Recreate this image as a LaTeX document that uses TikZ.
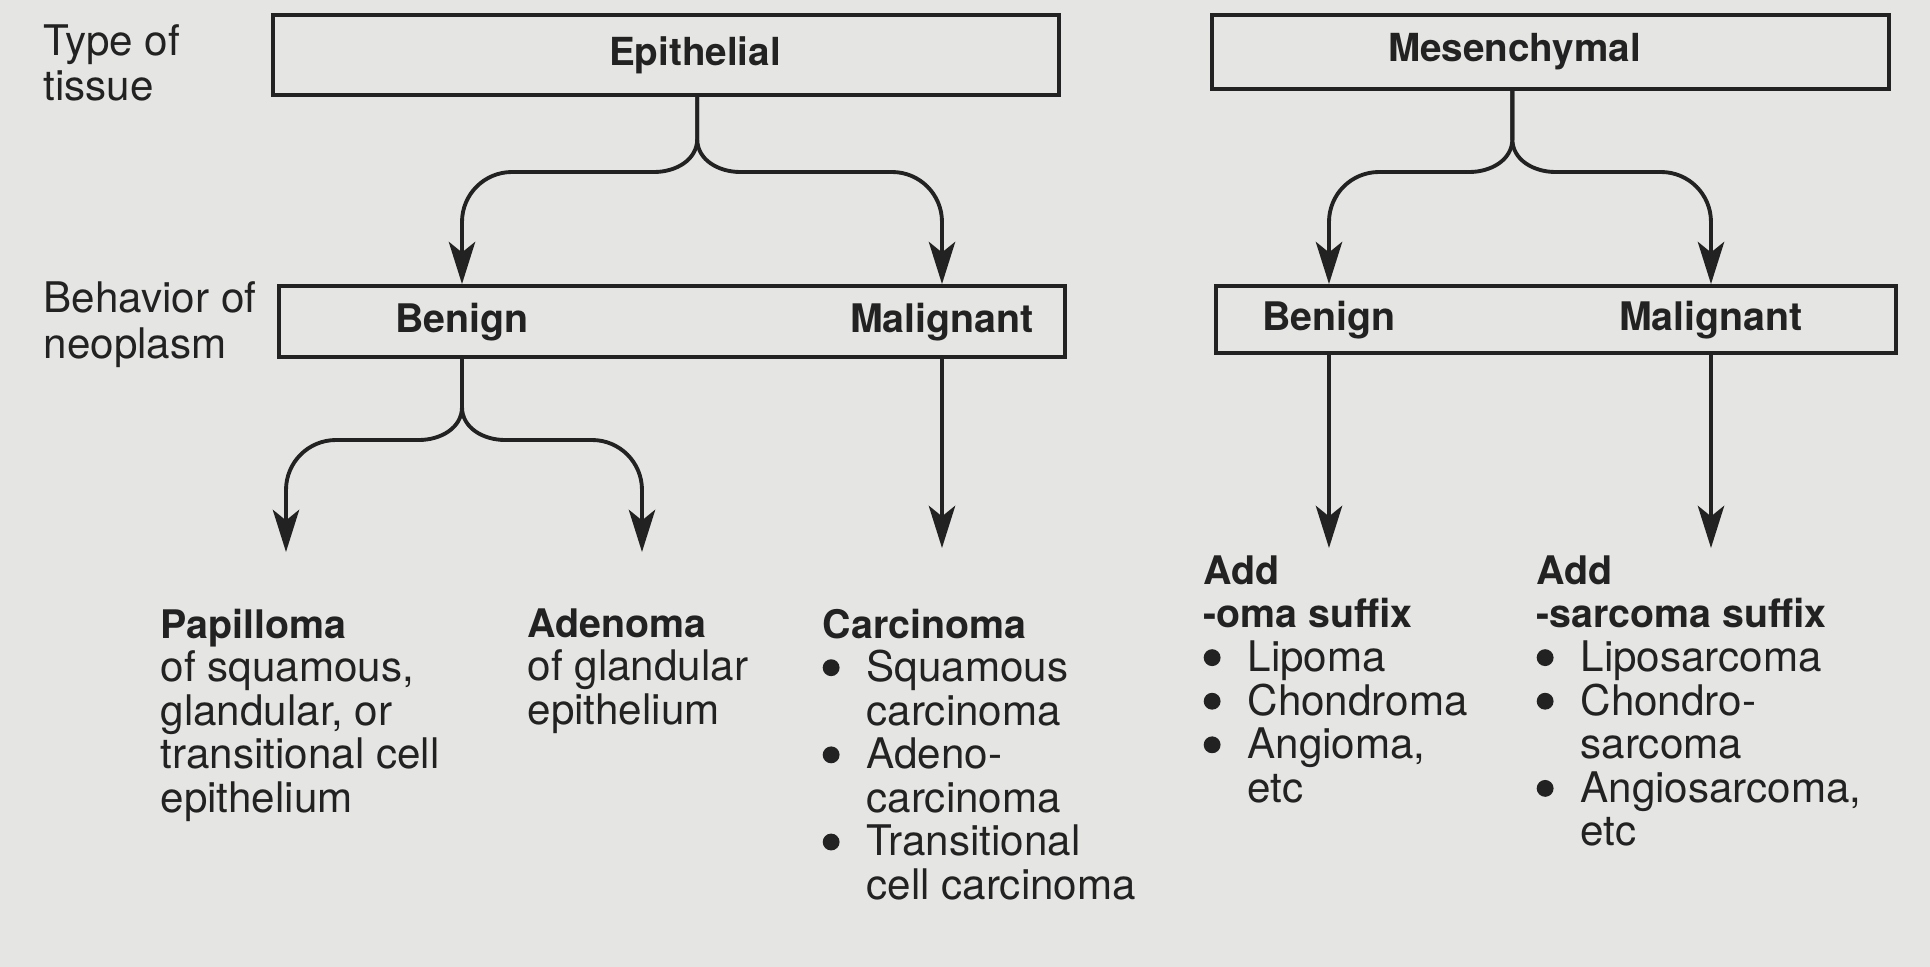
\documentclass[tikz,border=0pt]{standalone}
\usepackage{fontspec}
\setmainfont{TeX Gyre Heros}
\usetikzlibrary{positioning}
\usetikzlibrary{arrows.meta}
\usetikzlibrary{calc}
\definecolor{paper}{RGB}{229,229,227}
\definecolor{ink}{RGB}{34,34,34}
\newcommand{\hd}[1]{{\fontsize{11.2}{12.4}\selectfont\bfseries #1}}
\newcommand{\blt}{\makebox[1.04em][l]{\tikz[baseline=0pt]\fill[ink] (0.2em,0.33em) circle (0.2em);}}
\newcommand{\skp}{\hspace*{1.04em}}
\tikzset{
    every node/.append style={text=ink},
    box/.style={draw=ink, line width=1.1pt, inner sep=0pt, font=\fontsize{11}{12}\selectfont\bfseries},
    tag/.style={anchor=west, align=left, inner sep=0pt, font=\fontsize{12}{13}\selectfont},
    kind/.style={inner sep=0pt, font=\fontsize{11.2}{12}\selectfont\bfseries},
    note/.style={anchor=north west, align=left, inner sep=0pt, font=\fontsize{12}{12.4}\selectfont},
    fork/.style={-{Stealth[length=12pt,width=7.5pt,inset=3pt]}, line width=1.1pt, draw=ink}
}

\begin{document}
\begin{tikzpicture}
\useasboundingbox (0,0) rectangle (19.30,-9.67);
\fill[paper] (0,0) rectangle (19.30,-9.67);

% type of tissue
\node[tag] (tissue) at (0.43,-0.63) {Type of\\tissue};
\node[box, minimum width=7.86cm, minimum height=0.80cm] (epi) at (6.66,-0.55) {\hspace*{0.58cm}Epithelial};
\node[box, minimum width=6.77cm, minimum height=0.74cm] (mes) at (15.505,-0.52) {Mesenchymal\hspace*{0.72cm}};

% behavior of neoplasm
\node[tag] (behav) at (0.43,-3.245) {Behavior of\\neoplasm};
\node[box, minimum width=7.86cm, minimum height=0.71cm] (ebeh) at (6.72,-3.215) {};
\node[box, minimum width=6.80cm, minimum height=0.67cm] (mbeh) at (15.56,-3.195) {};
\node[kind] (eben) at (4.62,-3.22) {Benign};
\node[kind] (emal) at (9.42,-3.22) {Malignant};
\node[kind] (mben) at (13.29,-3.20) {Benign};
\node[kind] (mmal) at (17.11,-3.20) {Malignant};

\coordinate (emid) at ($(eben)!0.49!(emal)$);
\coordinate (mmid) at ($(mben)!0.48!(mmal)$);
\coordinate (ptip) at (2.86,-5.52);
\coordinate (atip) at (6.42,-5.52);
\coordinate (ctip) at (9.42,-5.48);
\coordinate (otip) at (13.29,-5.48);
\coordinate (stip) at (17.11,-5.48);

% forks
\draw[fork] (emid |- epi.south) -- (emid |- 0,-1.39) to[out=-90,in=0] ++(-0.43,-0.33) -- ($(eben |- 0,-1.72)+(0.5,0)$) to[out=180,in=90] ++(-0.5,-0.5) -- (eben |- ebeh.north);
\draw[fork] (emid |- epi.south) -- (emid |- 0,-1.39) to[out=-90,in=180] ++(0.43,-0.33) -- ($(emal |- 0,-1.72)+(-0.5,0)$) to[out=0,in=90] ++(0.5,-0.5) -- (emal |- ebeh.north);
\draw[fork] (mmid |- mes.south) -- (mmid |- 0,-1.39) to[out=-90,in=0] ++(-0.43,-0.33) -- ($(mben |- 0,-1.72)+(0.5,0)$) to[out=180,in=90] ++(-0.5,-0.5) -- (mben |- mbeh.north);
\draw[fork] (mmid |- mes.south) -- (mmid |- 0,-1.39) to[out=-90,in=180] ++(0.43,-0.33) -- ($(mmal |- 0,-1.72)+(-0.5,0)$) to[out=0,in=90] ++(0.5,-0.5) -- (mmal |- mbeh.north);

\draw[fork] (eben |- ebeh.south) -- (eben |- 0,-4.07) to[out=-90,in=0] ++(-0.43,-0.33) -- ($(ptip |- 0,-4.40)+(0.5,0)$) to[out=180,in=90] ++(-0.5,-0.5) -- (ptip);
\draw[fork] (eben |- ebeh.south) -- (eben |- 0,-4.07) to[out=-90,in=180] ++(0.43,-0.33) -- ($(atip |- 0,-4.40)+(-0.5,0)$) to[out=0,in=90] ++(0.5,-0.5) -- (atip);
\draw[fork] (emal |- ebeh.south) -- (ctip);
\draw[fork] (mben |- mbeh.south) -- (otip);
\draw[fork] (mmal |- mbeh.south) -- (stip);

% examples
\node[note] (pap) at (1.60,-6.08) {\hd{Papilloma}\\of squamous,\\glandular, or\\transitional cell\\epithelium};
\node[note] (aden) at (5.27,-6.08) {\hd{Adenoma}\\of glandular\\epithelium};
\node[note] (carc) at (8.22,-6.08) {\hd{Carcinoma}\\\blt Squamous\\\skp carcinoma\\\blt Adeno-\\\skp carcinoma\\\blt Transitional\\\skp cell carcinoma};
\node[note] (oma) at (12.03,-5.55) {\hd{Add}\\\hd{-oma suffix}\\\blt Lipoma\\\blt Chondroma\\\blt Angioma,\\\skp etc};
\node[note] (sarc) at (15.36,-5.55) {\hd{Add}\\\hd{-sarcoma suffix}\\\blt Liposarcoma\\\blt Chondro-\\\skp sarcoma\\\blt Angiosarcoma,\\\skp etc};
\end{tikzpicture}
\end{document}
